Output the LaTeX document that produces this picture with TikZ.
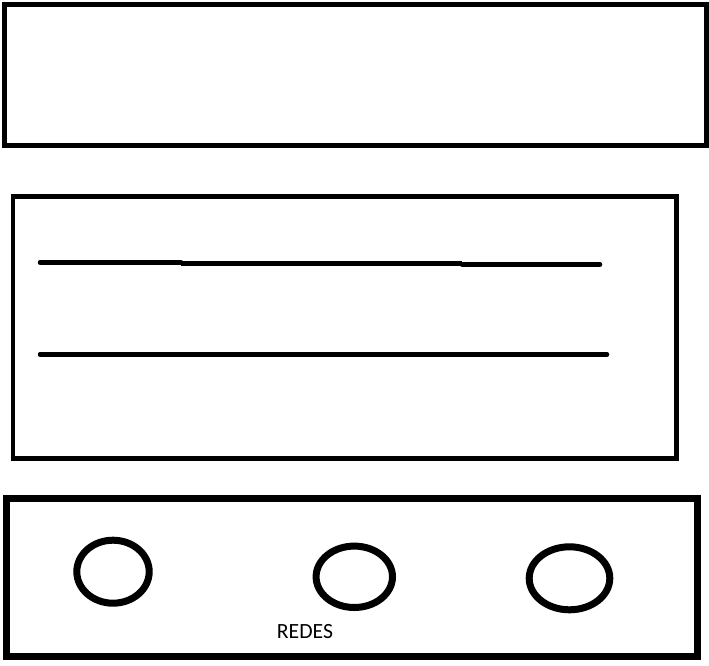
\documentclass[tikz,border=0pt]{standalone}
\usepackage{fontspec}
\newfontfamily\labelfont{Carlito}
\usetikzlibrary{shapes.geometric}
\begin{document}
\begin{tikzpicture}[x=1pt,y=-1pt,
  panel/.style={draw=black,rectangle,inner sep=0pt,outer sep=0pt},
  ring/.style={draw=black,ellipse,line width=7pt,inner sep=0pt},
  rule/.style={draw=black,line width=4.5pt,line cap=round},
  lbl/.style={font=\labelfont\fontsize{21.7}{24}\selectfont,text=black,inner sep=0pt,anchor=base}]
\useasboundingbox (0,0) rectangle (709,666);
\fill[white] (0,0) rectangle (709,666);
% panels
\node[panel,line width=4.5pt,minimum width=702pt,minimum height=141.2pt] (top) at (355.5,74.9) {};
\node[panel,line width=4.5pt,minimum width=663.7pt,minimum height=262pt] (mid) at (344.6,327.5) {};
\node[panel,line width=7pt,minimum width=691pt,minimum height=158pt] (bot) at (351.5,577.5) {};
% lines in middle panel
\coordinate (l1a) at (40,262.5);
\coordinate (l1b) at (181,262.5);
\coordinate (l1c) at (181,263.5);
\coordinate (l1d) at (462,263.5);
\coordinate (l1e) at (462,264.5);
\coordinate (l1f) at (600,264.5);
\draw[rule] (l1a) -- (l1b);
\draw[rule,line cap=butt] (l1c) -- (l1d);
\draw[rule] (l1e) -- (l1f);
\coordinate (l2a) at (40,354.5);
\coordinate (l2b) at (607,354.5);
\draw[rule] (l2a) -- (l2b);
% rings
\node[ring,minimum width=72.4pt,minimum height=63pt] (r1) at (113,571.7) {};
\node[ring,minimum width=76.4pt,minimum height=61.4pt] (r2) at (354.3,576.8) {};
\node[ring,minimum width=80.6pt,minimum height=63pt] (r3) at (569.5,578.3) {};
% label
\node[lbl] (redes) at (305,638) {REDES};
\end{tikzpicture}
\end{document}
